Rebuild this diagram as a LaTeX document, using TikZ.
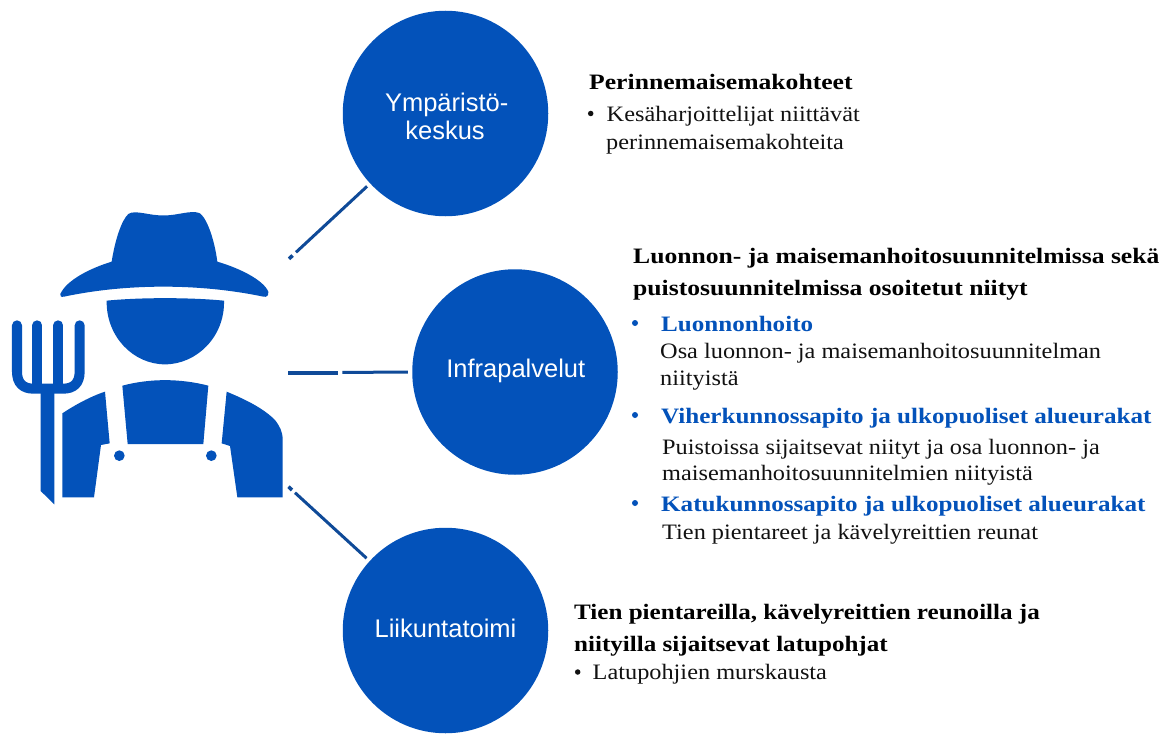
\documentclass[tikz,border=0pt]{standalone}
\usepackage{fontspec}
\setmainfont{Liberation Serif}
\newfontfamily\circfont{Liberation Sans}
\newfontfamily\headfont{Liberation Serif}[FakeStretch=1.165]
\newfontfamily\headfontb{Liberation Serif}[FakeStretch=1.14]
\newfontfamily\bodyfont{Liberation Serif}[FakeStretch=1.105]
\definecolor{fblue}{HTML}{0352BA}
\definecolor{lineblue}{HTML}{0F4A98}
\definecolor{txt}{HTML}{111111}
\tikzset{
  hub/.style={circle,fill=fblue,draw=none,minimum size=205.5pt,inner sep=0pt,outer sep=0pt},
  hublabel/.style={text=white,anchor=base,inner sep=0pt,font=\circfont\fontsize{25.5}{30}\selectfont},
  link/.style={draw=lineblue,line width=3pt},
  stub/.style={draw=lineblue,line width=4pt},
  icon/.style={fill=fblue,draw=none},
  head/.style={anchor=base west,inner sep=0pt,text=black,font=\headfont\bfseries\fontsize{22}{26}\selectfont},
  headb/.style={anchor=base west,inner sep=0pt,text=black,font=\headfontb\bfseries\fontsize{22}{26}\selectfont},
  bluehead/.style={anchor=base west,inner sep=0pt,text=fblue,font=\headfontb\bfseries\fontsize{22}{26}\selectfont},
  body/.style={anchor=base west,inner sep=0pt,text=txt,font=\bodyfont\fontsize{22}{26}\selectfont},
  dotk/.style={circle,fill=txt,minimum size=5.5pt,inner sep=0pt},
  dotb/.style={circle,fill=fblue,minimum size=6pt,inner sep=0pt},
}
\begin{document}
\begin{tikzpicture}[x=1pt,y=-1pt]
\useasboundingbox (0,0) rectangle (1166,733);
\fill[white] (0,0) rectangle (1166,733);
% farmer icon, in 3x crop units
\begin{scope}[shift={(0,190)},x=0.33333pt,y=-0.33333pt]
 \fill[icon] (181,312) .. controls (200,270) and (270,235) .. (335,215)
   .. controls (345,150) and (365,90) .. (385,72) .. controls (405,58) and (450,78) .. (490,76)
   .. controls (530,78) and (575,58) .. (600,70) .. controls (625,90) and (645,160) .. (652,215)
   .. controls (720,235) and (790,270) .. (805,305) .. controls (806,318) and (800,322) .. (790,320)
   .. controls (600,280) and (380,280) .. (192,320) .. controls (183,322) and (179,318) .. (181,312) -- cycle;
 \fill[icon] (320,332) .. controls (420,322) and (570,322) .. (672,332)
   .. controls (675,440) and (590,523) .. (495,523) .. controls (400,523) and (318,440) .. (320,332) -- cycle;
 \fill[icon] (367,587) .. controls (450,565) and (540,565) .. (625,587) -- (610,762) -- (383,762) -- cycle;
 \fill[icon] (187,670) .. controls (225,645) and (270,620) .. (315,605) -- (329,760) -- (303,765) -- (282,922) -- (187,922) -- cycle;
 \fill[icon] (680,605) .. controls (740,630) and (790,655) .. (825,690) .. controls (840,710) and (848,725) .. (848,750)
   -- (848,922) -- (712,922) -- (690,768) -- (665,760) -- cycle;
 \fill[icon] (358,797) circle (16);
 \fill[icon] (634,797) circle (16);
 \draw[fblue,line width=10pt,line cap=round] (51,406) -- (51,545) .. controls (51,580) and (70,596) .. (100,596) -- (190,596)
   .. controls (220,596) and (239,580) .. (239,545) -- (239,406);
 \draw[fblue,line width=10pt,line cap=round] (112,406) -- (112,590);
 \draw[fblue,line width=10pt,line cap=round] (175,406) -- (175,590);
 \fill[icon] (122,590) -- (163,590) -- (163,943) -- (122,903) -- cycle;
\end{scope}
% hubs
\node[hub] (c1) at (445.5,113.5) {};
\node[hub] (c2) at (515,372) {};
\node[hub] (c3) at (445.5,630.5) {};
\node[hublabel] (c1a) at (446.7,111) {Ympäristö-};
\node[hublabel] (c1b) at (445,139.5) {keskus};
\node[hublabel] (c2a) at (515.8,377) {Infrapalvelut};
\node[hublabel] (c3a) at (445.5,637.5) {Liikuntatoimi};
% connectors
\coordinate (a0) at (289,258.8); \coordinate (a1) at (292.6,255.5); \coordinate (a2) at (296,252.3);
\coordinate (b0) at (288.3,372.7); \coordinate (b1) at (338.3,372.7); \coordinate (b2) at (342.3,372.3);
\coordinate (d0) at (288.5,486.7); \coordinate (d1) at (292,490); \coordinate (d2) at (295,492.7);
\draw[stub,line width=3.6pt] (a0) -- (a1);
\draw[link,shorten >=4.3pt] (a2) -- (c1);
\draw[stub] (b0) -- (b1);
\draw[link,shorten >=4.3pt] (b2) -- (c2);
\draw[stub,line width=3.6pt] (d0) -- (d1);
\draw[link,shorten >=4.3pt] (d2) -- (c3);
% texts
\node[head] (t1) at (589,90) {Perinnemaisemakohteet};
\node[dotk] (d1a) at (590.7,113.5) {};
\node[body] (t2) at (606.5,121.7) {Kesäharjoittelijat niittävät};
\node[body] (t3) at (606,149.5) {perinnemaisemakohteita};
\node[head] (t4) at (633,263) {Luonnon- ja maisemanhoitosuunnitelmissa sekä};
\node[head] (t5) at (633,295) {puistosuunnitelmissa osoitetut niityt};
\node[dotb] (d2a) at (635,323) {};
\node[bluehead] (t6) at (661,331) {Luonnonhoito};
\node[body] (t7) at (660,358) {Osa luonnon- ja maisemanhoitosuunnitelman};
\node[body] (t8) at (660,385) {niityistä};
\node[dotb] (d2b) at (635,415) {};
\node[bluehead] (t9) at (661,423) {Viherkunnossapito ja ulkopuoliset alueurakat};
\node[body] (t10) at (662,454) {Puistoissa sijaitsevat niityt ja osa luonnon- ja};
\node[body] (t11) at (662,480) {maisemanhoitosuunnitelmien niityistä};
\node[dotb] (d2c) at (635,503) {};
\node[bluehead] (t12) at (661,511) {Katukunnossapito ja ulkopuoliset alueurakat};
\node[body] (t13) at (662,539) {Tien pientareet ja kävelyreittien reunat};
\node[headb] (t14) at (574,619.5) {Tien pientareilla, kävelyreittien reunoilla ja};
\node[headb] (t15) at (574,651) {niityilla sijaitsevat latupohjat};
\node[dotk] (d3a) at (577.7,672) {};
\node[body] (t16) at (592.5,679.5) {Latupohjien murskausta};
\end{tikzpicture}
\end{document}
